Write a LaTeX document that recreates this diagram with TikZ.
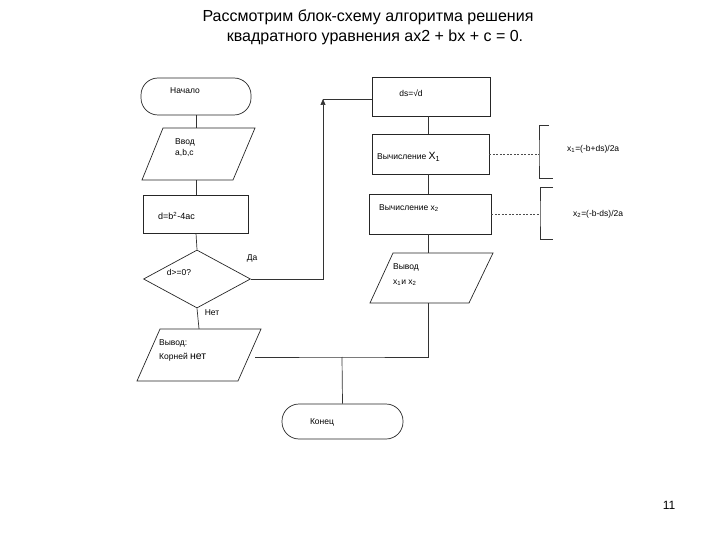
\documentclass[tikz,border=0pt]{standalone}
\usepackage{fontspec}
\setmainfont{Liberation Sans}
\usetikzlibrary{shapes.geometric,arrows.meta}
\begin{document}
\begin{tikzpicture}[x=1pt,y=-1pt,
  outl/.style={draw=black!85, line width=0.7pt},
  conn/.style={draw=black!80, line width=0.7pt},
  dsh/.style={draw=black!70, line width=0.6pt, dash pattern=on 2pt off 1.5pt},
  anchorbox/.style={inner sep=0pt, minimum width=#1},
  stadium/.style={outl, rectangle, rounded corners=17pt, inner sep=0pt},
  procbox/.style={outl, rectangle, inner sep=0pt},
  lbl/.style={font=\fontsize{8.5}{10}\selectfont, inner sep=0pt},
  lblw/.style={lbl, anchor=west},
  ttl/.style={font=\fontsize{16}{19}\selectfont, inner sep=0pt}
]
\useasboundingbox (0,0) rectangle (720,540);

% title
\node[ttl] (t1) at (368,17) {Рассмотрим блок-схему алгоритма решения};
\node[ttl] (t2) at (375,37) {квадратного уравнения ax2 + bx + c = 0.};

% left column
\node[stadium, minimum width=110pt, minimum height=37pt] (start) at (196,96.5) {};
\node[lbl] (startT) at (185,91) {Начало};

\path[outl] (163,128) -- (255,128) -- (233,180) -- (142,180) -- cycle;
\node[anchorbox=60pt, minimum height=52pt] (input) at (196,154) {};
\node[lblw] (inT1) at (175,142) {Ввод};
\node[lblw] (inT2) at (175,153) {a,b,c};

\node[procbox, minimum width=105pt, minimum height=38pt] (calc) at (196,214) {};
\node[lblw, font=\fontsize{9}{10}\selectfont] (calcT) at (158,216) {d=b\textsuperscript{2}-4ac};

\node[outl, diamond, inner sep=0pt, minimum width=107pt, minimum height=58pt] (cond) at (197,279) {};
\node[lbl] (condT) at (179,272) {d>=0?};
\node[lbl] (yes) at (252,258) {Да};
\node[lbl] (no) at (212,313) {Нет};

\path[outl] (160,329) -- (261,329) -- (238,381) -- (137,381) -- cycle;
\node[anchorbox=112pt, minimum height=52pt] (noroots) at (199,355) {};
\node[lblw] (nrT1) at (159,343) {Вывод:};
\node[lblw] (nrT2) at (159,357) {Корней \fontsize{10.5}{12}\selectfont нет};

\node[stadium, minimum width=121pt, minimum height=35pt] (end) at (342.5,421.5) {};
\node[lbl] (endT) at (322,422) {Конец};

% right column
\node[procbox, minimum width=118pt, minimum height=39pt] (ds) at (431,96.5) {};
\node[lbl] (dsT) at (411,93) {ds=√d};

\node[procbox, minimum width=117pt, minimum height=40pt] (x1) at (430.5,154) {};
\node[lblw] (x1T) at (377,157) {Вычисление {\fontsize{10.5}{12}\selectfont X\textsubscript{1}}};

\node[procbox, minimum width=122pt, minimum height=40pt] (x2) at (430,214) {};
\node[lblw] (x2T) at (379,208) {Вычисление x\textsubscript{2}};

\path[outl] (393,253) -- (493,253) -- (469,303) -- (370,303) -- cycle;
\node[anchorbox=100pt, minimum height=50pt] (out) at (428,278) {};
\node[lblw] (outT1) at (393,267) {Вывод};
\node[lblw] (outT2) at (393,283) {x\textsubscript{1}и x\textsubscript{2}};

% formulas with brackets
\coordinate (b1m) at (539,154);
\coordinate (b2m) at (540,214);
\draw[conn] (549,125) -- (539,125) -- (b1m) -- (539,178) -- (553,178);
\draw[conn] (553,187) -- (540,187) -- (b2m) -- (540,239) -- (553,239);
\node[lblw] (f1) at (567,149) {x\textsubscript{1}=(-b+ds)/2a};
\node[lblw] (f2) at (573,214) {x\textsubscript{2}=(-b-ds)/2a};
\draw[dsh] (x1.east) -- (b1m);
\draw[dsh] (x2.east) -- (b2m);

% connectors
\draw[conn] (start.south) -- (input.north);
\draw[conn] (input.south) -- (calc.north);
\draw[conn] (calc.south) -- (cond.north);
\draw[conn] (cond.south) -- (noroots.north);
\coordinate (turn) at (323,99);
\draw[conn, -{Triangle[length=6pt,width=5pt]}] (cond.east) -| (turn);
\draw[conn] (turn) -- (turn -| ds.west);
\draw[conn] (ds.south -| out.north) -- (x1.north -| out.north);
\draw[conn] (x1.south -| out.north) -- (x2.north -| out.north);
\draw[conn] (x2.south -| out.north) -- (out.north);
\coordinate (j) at (342,357);
\coordinate (jr) at (428,357);
\draw[conn] (noroots.east |- j) -- (j) -- (jr) -- (out.south);
\draw[conn] (j) -- (end.north);

% page number
\node[font=\fontsize{12}{14}\selectfont, inner sep=0pt] (pg) at (669,505) {11};
\end{tikzpicture}
\end{document}
